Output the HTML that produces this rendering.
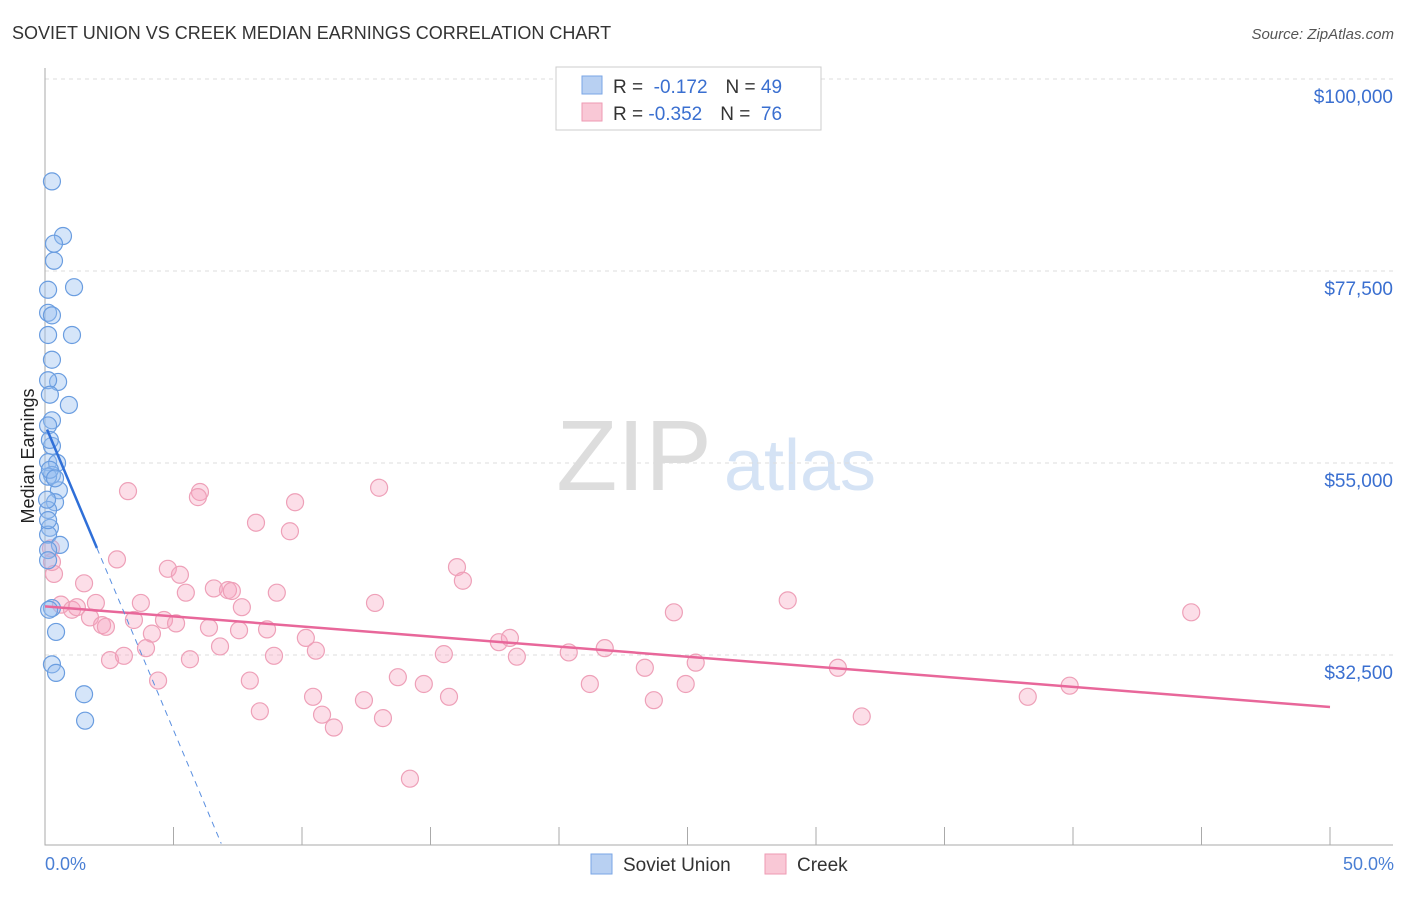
<!DOCTYPE html>
<html><head><meta charset="utf-8"><style>
body{margin:0;background:#fff;font-family:"Liberation Sans",sans-serif}
svg text{font-family:"Liberation Sans",sans-serif}
</style></head><body>
<svg id="chart" width="1406" height="892" xmlns="http://www.w3.org/2000/svg">
<text x="12" y="39" font-size="18" fill="#333">SOVIET UNION VS CREEK MEDIAN EARNINGS CORRELATION CHART</text>
<text x="1394" y="39" font-size="15" fill="#555" font-style="italic" text-anchor="end">Source: ZipAtlas.com</text>
<text x="634" y="490" font-size="100" fill="#ddd" font-family="Liberation Serif" text-anchor="middle">ZIP</text>
<text x="800" y="490" font-size="72" fill="#d5e3f5" text-anchor="middle">atlas</text>
<g id="grid"></g><g id="axes"></g><g id="pts"></g><g id="trend"></g>
<text transform="translate(34,456) rotate(-90)" font-size="18" fill="#222" text-anchor="middle">Median Earnings</text>
<text x="45" y="870" font-size="18" fill="#4a7fd4">0.0%</text>
<text x="1394" y="870" font-size="18" fill="#4a7fd4" text-anchor="end">50.0%</text>
<g>
<rect x="556" y="67" width="265" height="63" fill="#fff" stroke="#ccc"/>
<rect x="582" y="76" width="20" height="18" fill="#b8d0f2" stroke="#7aa6e6"/>
<rect x="582" y="103" width="20" height="18" fill="#f9c8d6" stroke="#ee9ab3"/>
<text x="613" y="93" font-size="19" fill="#333">R = <tspan fill="#3a6fd0">&#160;-0.172</tspan><tspan fill="#333" dx="18">N = </tspan><tspan fill="#3a6fd0">49</tspan></text>
<text x="613" y="120" font-size="19" fill="#333">R = <tspan fill="#3a6fd0">-0.352</tspan><tspan fill="#333" dx="18">N = </tspan><tspan fill="#3a6fd0">&#160;76</tspan></text>
</g>
<g>
<rect x="591" y="854" width="21" height="20" fill="#b8d0f2" stroke="#7aa6e6"/>
<text x="623" y="871" font-size="19" fill="#333">Soviet Union</text>
<rect x="765" y="854" width="21" height="20" fill="#f9c8d6" stroke="#ee9ab3"/>
<text x="797" y="871" font-size="19" fill="#333">Creek</text>
</g>
</svg>
<script>
const yTicks=[100000,77500,55000,32500];
const yTickLabels=["$100,000","$77,500","$55,000","$32,500"];
const blueX=[0.27,0.70,0.35,0.35,1.13,0.12,0.12,0.27,1.05,0.12,0.27,0.51,0.12,0.19,0.93,0.27,0.12,0.27,0.12,0.47,0.27,0.12,0.54,0.39,0.12,0.19,0.12,0.58,0.12,0.12,0.27,0.43,0.27,0.43,1.52,1.56,0.19,0.19,0.39,0.12,0.08,0.16];
const blueY=[88.0,81.6,80.7,78.7,75.6,75.3,72.6,72.3,70.0,70.0,67.1,64.5,64.7,63.0,61.8,60.0,59.4,57.0,55.1,55.0,53.6,53.4,51.8,50.4,49.5,47.4,46.6,45.4,44.8,43.6,38.0,35.2,31.4,30.4,27.9,24.8,54.2,57.7,53.2,48.3,50.7,37.8];
const pinkX=[3.23,6.03,5.95,9.73,13.0,8.21,9.53,2.80,0.35,0.27,1.52,4.78,5.25,16.03,16.26,6.57,5.48,7.12,7.27,9.02,0.62,1.05,1.24,1.98,3.73,7.66,12.84,24.47,28.9,44.6,1.75,2.22,2.37,3.46,4.63,5.10,6.38,7.55,8.64,4.16,10.15,6.81,3.93,10.54,15.52,17.66,18.09,20.38,21.78,8.91,2.53,3.07,5.64,18.36,25.32,23.34,30.85,4.40,7.97,13.73,14.74,21.2,24.93,10.43,12.41,15.72,38.24,39.87,8.36,10.78,11.24,13.15,23.69,31.78,14.2,0.23];
const pinkY=[51.7,51.6,51.0,50.4,52.1,48.0,47.0,43.7,42.0,43.4,40.9,42.6,41.9,42.8,41.2,40.3,39.8,40.1,40.0,39.8,38.4,37.8,38.1,38.6,38.6,38.1,38.6,37.5,38.9,37.5,36.9,36.0,35.8,36.6,36.6,36.2,35.7,35.4,35.5,35.0,34.5,33.5,33.3,33.0,32.6,34.0,34.5,32.8,33.3,32.4,31.9,32.4,32.0,32.3,31.6,31.0,31.0,29.5,29.5,29.9,29.1,29.1,29.1,27.6,27.2,27.6,27.6,28.9,25.9,25.5,24.0,25.1,27.2,25.3,18.0,45.0];
const blueTrend=[59.5,-7.16];
const pinkTrend=[38.2,-0.236];
const X=p=>45+p*25.7;
const Y=k=>79+(100-k)*8.533;
const NS="http://www.w3.org/2000/svg";
function mk(par,tag,at){const e=document.createElementNS(NS,tag);for(const k in at)e.setAttribute(k,at[k]);document.getElementById(par).appendChild(e);return e;}
yTicks.forEach((t,i)=>{
 const g=mk('grid','line',{x1:45,x2:1393,y1:Y(t/1000),y2:Y(t/1000),stroke:'#ddd','stroke-dasharray':'4,4'});
 
 
 const tx=mk('grid','text',{x:1393,y:Y(t/1000)+24,'font-size':19,fill:'#3a6fd0','text-anchor':'end'});
 tx.textContent=yTickLabels[i];
 
 
});
const ax=mk('axes','path',{d:'M45,68V845H1393',stroke:'#aaa',fill:'none'});


for(let p=5;p<=50;p+=5){const t=mk('axes','line',{x1:X(p),x2:X(p),y1:827,y2:845,stroke:'#aaa'});
 
 }
pinkX.forEach((x,i)=>{const c=mk('pts','circle',{cx:X(x),cy:Y(pinkY[i]),r:8.5,fill:'rgba(245,160,188,0.35)',stroke:'#eea0b8','stroke-width':1.2});
 
 });
blueX.forEach((x,i)=>{const c=mk('pts','circle',{cx:X(x),cy:Y(blueY[i]),r:8.5,fill:'rgba(150,190,240,0.4)',stroke:'#6a9de0','stroke-width':1.2});
 
 });
const pl=mk('trend','line',{x1:X(0),y1:Y(pinkTrend[0]),x2:X(50),y2:Y(pinkTrend[0]+pinkTrend[1]*50),stroke:'#e8679a','stroke-width':2.5});


const bs=mk('trend','line',{x1:X(0.08),y1:Y(blueTrend[0]+blueTrend[1]*0.08),x2:X(2.02),y2:Y(blueTrend[0]+blueTrend[1]*2.02),stroke:'#2f6fd8','stroke-width':2.5});


const xEnd=(blueTrend[0]-10.4)/-blueTrend[1];
const bd=mk('trend','line',{x1:X(2.02),y1:Y(blueTrend[0]+blueTrend[1]*2.02),x2:X(xEnd),y2:Y(blueTrend[0]+blueTrend[1]*xEnd),stroke:'#5a8fe0','stroke-width':1,'stroke-dasharray':'6,5'});


</script>
</body></html>
